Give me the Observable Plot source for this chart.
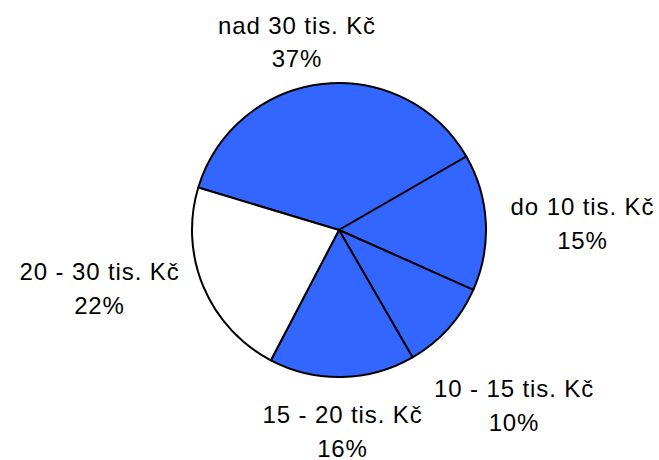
<!DOCTYPE html>
<html>
<head>
<meta charset="utf-8">
<script src="https://cdn.jsdelivr.net/npm/d3@7"></script>
<script src="https://cdn.jsdelivr.net/npm/@observablehq/plot@0.6"></script>
<style>
  html, body { margin: 0; padding: 0; background: #fff; }
  #chart svg text { letter-spacing: 0.9px; }
</style>
</head>
<body>
<div id="chart"></div>
<script>
// ---- data ----
const categories = ["nad 30 tis. Kč", "do 10 tis. Kč", "10 - 15 tis. Kč", "15 - 20 tis. Kč", "20 - 30 tis. Kč"];
const shares = [37, 15, 10, 16, 22];

// ---- style / layout (not data) ----
const sliceFill = ["#3366FF", "#3366FF", "#3366FF", "#3366FF", "#FFFFFF"];
const W = 659, H = 460;
const pieCenter = {x: 339, y: 230};
const pieRadius = 147;
const startDeg = 286.8;
// label anchor: x = centre of text, y = baseline of last line
const labelX = [296.5, 582, 513.5, 342, 99];
const labelY = [66.7, 248.3, 430, 456, 313.3];

const rows = categories.map((c, i) => ({
  category: c,
  share: shares[i],
  fill: sliceFill[i],
  lx: labelX[i],
  ly: labelY[i],
  label: `${c}\n${shares[i]}%`
}));

const pie = d3.pie()
  .value(d => d.share)
  .sort(null)
  .startAngle(startDeg * Math.PI / 180)
  .endAngle((startDeg + 360) * Math.PI / 180);

function pieMark(index, scales) {
  const cx = scales.x(pieCenter.x), cy = scales.y(pieCenter.y);
  const r = Math.abs(scales.x(pieCenter.x + pieRadius) - cx);
  const arc = d3.arc().innerRadius(0).outerRadius(r);
  const g = d3.create("svg:g").attr("transform", `translate(${cx},${cy})`);
  g.selectAll("path")
    .data(pie(rows))
    .join("path")
    .attr("d", arc)
    .attr("fill", d => d.data.fill)
    .attr("stroke", "#000")
    .attr("stroke-width", 2)
    .attr("stroke-linejoin", "round");
  return g.node();
}

const chart = Plot.plot({
  width: W,
  height: H,
  margin: 0,
  style: {background: "#fff", fontFamily: "'Liberation Sans', Arial, sans-serif"},
  x: {domain: [0, W], range: [0, W], axis: null},
  y: {domain: [0, H], range: [0, H], axis: null},
  marks: [
    pieMark,
    Plot.text(rows, {
      x: "lx",
      y: "ly",
      text: "label",
      textAnchor: "middle",
      lineAnchor: "bottom",
      lineHeight: 1.4,
      fontSize: 24,
      fill: "#000"
    })
  ]
});
document.getElementById("chart").appendChild(chart);
</script>
</body>
</html>
